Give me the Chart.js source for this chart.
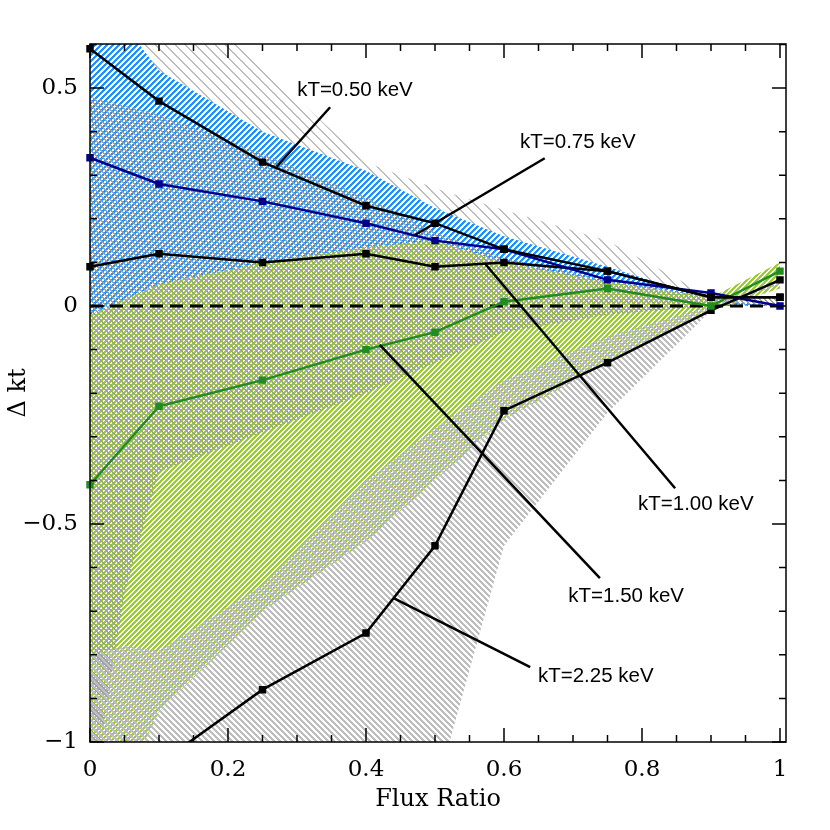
<!DOCTYPE html>
<html>
<head>
<meta charset="utf-8">
<script src="https://cdn.jsdelivr.net/npm/chart.js@4.4.1/dist/chart.umd.min.js"></script>
<style>
  html, body { margin: 0; padding: 0; background: #fff; }
  #caja { width: 830px; height: 830px; }
</style>
</head>
<body>
<div id="caja"><canvas id="grafico"></canvas></div>
<script>
// valores de cada curva (Flux Ratio -> Delta kt)
const fluxRatio = [0, 0.1, 0.25, 0.4, 0.5, 0.6, 0.75, 0.9, 1.0];
const dkt050 = [0.59, 0.47, 0.33, 0.23, 0.19, 0.13, 0.08, 0.02, 0.02];
const dkt075 = [0.34, 0.28, 0.24, 0.19, 0.15, 0.13, 0.06, 0.03, 0.0];
const dkt100 = [0.09, 0.12, 0.10, 0.12, 0.09, 0.10, 0.08, 0.02, 0.02];
const dkt150 = [-0.41, -0.23, -0.17, -0.10, -0.06, 0.01, 0.04, 0.0, 0.08];
const dkt225 = [-1.2, -1.05, -0.88, -0.75, -0.55, -0.24, -0.13, -0.01, 0.06];

// bandas de error (limite superior / inferior)
const bandaX = [0, 0.05, 0.1, 0.25, 0.4, 0.5, 0.6, 0.75, 0.9, 1.0];
const banda050Sup = [1.1, 0.94, 0.78, 0.55, 0.33, 0.27, 0.22, 0.15, 0.02, 0.0];
const banda050Inf = [0.2, 0.18, 0.15, 0.12, 0.1, 0.08, 0.06, 0.04, 0.0, 0.0];
const banda075Sup = [0.75, 0.645, 0.54, 0.40, 0.31, 0.225, 0.16, 0.09, 0.015, 0.0];
const banda075Inf = [-0.05, -0.035, -0.02, 0.02, 0.05, 0.06, 0.05, 0.03, 0.0, 0.0];
const banda100Sup = [0.48, 0.46, 0.44, 0.35, 0.25, 0.17, 0.11, 0.06, 0.02, 0.02];
const banda100Inf = [-1.15, -0.66, -0.38, -0.29, -0.2, -0.13, -0.06, -0.02, 0.0, 0.0];
const banda150Sup = [-0.02, 0.015, 0.05, 0.1, 0.135, 0.15, 0.1, 0.055, 0.02, 0.1];
const banda150Inf = [-1.15, -1.1, -0.93, -0.70, -0.54, -0.40, -0.26, -0.13, -0.01, 0.04];
const banda225Sup = [-0.8, -0.78, -0.79, -0.64, -0.40, -0.28, -0.17, -0.07, 0.0, 0.06];
const banda225Inf = [-1.5, -1.4, -1.35, -1.25, -1.15, -1.12, -0.55, -0.245, -0.01, 0.05];

const ceroX = [0, 1];
const ceroY = [0, 0];

// etiquetas kT
const etiquetas = ['kT=0.50 keV', 'kT=0.75 keV', 'kT=1.00 keV', 'kT=1.50 keV', 'kT=2.25 keV'];
const etiquetaX = [0.384, 0.707, 0.878, 0.777, 0.733];
const etiquetaY = [0.495, 0.375, -0.454, -0.665, -0.849];
const guiaDesdeX = [0.348, 0.659, 0.572, 0.420, 0.440];
const guiaDesdeY = [0.456, 0.339, 0.098, -0.089, -0.670];
const guiaHastaX = [0.2705, 0.471, 0.848, 0.739, 0.638];
const guiaHastaY = [0.3195, 0.163, -0.418, -0.624, -0.828];

const puntos = (xs, ys) => xs.map((x, i) => ({ x: x, y: ys[i] }));

// rayado nitido pixel a pixel
function rayado(color, paso, ancho, haciaArriba, fondo) {
    const c = document.createElement('canvas');
    c.width = paso; c.height = paso;
    const g = c.getContext('2d');
    if (fondo) { g.fillStyle = fondo; g.fillRect(0, 0, paso, paso); }
    g.fillStyle = color;
    for (let i = 0; i < paso; i++) {
        for (let j = 0; j < paso; j++) {
            const d = haciaArriba ? (i + j) % paso : (i - j + paso) % paso;
            if (d < ancho) g.fillRect(i, j, 1, 1);
        }
    }
    return g.createPattern(c, 'repeat');
}

function curva(ys, color) {
    return {
        data: puntos(fluxRatio, ys),
        borderColor: color,
        backgroundColor: color,
        pointBackgroundColor: color,
        pointBorderColor: color,
        pointStyle: 'rect',
        pointRadius: 3.5,
        borderWidth: 2.5,
        tension: 0,
        fill: false,
        clip: { left: 5, top: 5, right: 5, bottom: 0 },
        order: 0
    };
}

function banda(sup, inf, patron, orden) {
    return [{
        data: puntos(bandaX, sup),
        borderWidth: 0, borderColor: 'transparent', pointRadius: 0,
        backgroundColor: patron, fill: '+1', order: orden
    }, {
        data: puntos(bandaX, inf),
        borderWidth: 0, borderColor: 'transparent', pointRadius: 0,
        fill: false, order: orden
    }];
}

const marco = {
    id: 'marco',
    afterDatasetsDraw(chart) {
        const { ctx, chartArea: a, scales: { x, y } } = chart;
        ctx.save();
        ctx.strokeStyle = '#000';
        ctx.lineWidth = 1.5;
        ctx.strokeRect(a.left, a.top, a.right - a.left, a.bottom - a.top);
        ctx.beginPath();
        for (let i = 0; i <= 20; i++) {
            const px = x.getPixelForValue(i * 0.05);
            const largo = i % 4 === 0 ? 14 : 7;
            ctx.moveTo(px, a.bottom); ctx.lineTo(px, a.bottom - largo);
            ctx.moveTo(px, a.top); ctx.lineTo(px, a.top + largo);
        }
        for (let i = -10; i <= 6; i++) {
            const py = y.getPixelForValue(i * 0.1);
            const largo = i % 5 === 0 ? 14 : 7;
            ctx.moveTo(a.left, py); ctx.lineTo(a.left + largo, py);
            ctx.moveTo(a.right, py); ctx.lineTo(a.right - largo, py);
        }
        ctx.stroke();

        ctx.lineWidth = 2.5;
        ctx.font = '20.5px "Liberation Sans", Arial, sans-serif';
        ctx.fillStyle = '#000';
        ctx.textAlign = 'center';
        ctx.textBaseline = 'middle';
        etiquetas.forEach((t, i) => {
            ctx.beginPath();
            ctx.moveTo(x.getPixelForValue(guiaDesdeX[i]), y.getPixelForValue(guiaDesdeY[i]));
            ctx.lineTo(x.getPixelForValue(guiaHastaX[i]), y.getPixelForValue(guiaHastaY[i]));
            ctx.stroke();
            ctx.fillText(t, x.getPixelForValue(etiquetaX[i]), y.getPixelForValue(etiquetaY[i]));
        });
        ctx.restore();
    }
};

const etiquetaEje = v => {
    const r = Math.round(v * 100) / 100;
    return r < 0 ? '\u2212' + Math.abs(r) : String(r);
};

const fuenteEje = { family: '"DejaVu Serif", serif', size: 23 };
const fuenteTitulo = { family: '"DejaVu Serif", serif', size: 24 };

const grafico = document.getElementById('grafico');

new Chart(grafico, {
    type: 'line',
    data: {
        datasets: [
            curva(dkt050, '#000000'),
            curva(dkt075, '#00008B'),
            curva(dkt100, '#000000'),
            curva(dkt150, '#228B22'),
            curva(dkt225, '#000000'),
            {
                data: puntos(ceroX, ceroY),
                borderColor: '#000', borderWidth: 3, borderDash: [13, 7],
                pointRadius: 0, fill: false, order: 1
            },
            ...banda(banda225Sup, banda225Inf, rayado('#bebebe', 6, 3, false, null), 2),
            ...banda(banda100Sup, banda100Inf, rayado('#a0a0a0', 5, 2, false, null), 3),
            ...banda(banda150Sup, banda150Inf, rayado('#9acd32', 5, 3, true, '#ffffff'), 4),
            ...banda(banda075Sup, banda075Inf, rayado('#1e90ff', 6, 3, true, '#ffffff'), 5),
            ...banda(banda050Sup, banda050Inf, rayado('#bebebe', 10, 2, false, null), 6)
        ]
    },
    options: {
        responsive: true,
        maintainAspectRatio: false,
        devicePixelRatio: 1,
        animation: false,
        layout: { padding: { top: 44, right: 44, left: 0, bottom: 0 } },
        plugins: {
            legend: { display: false },
            tooltip: { enabled: false }
        },
        scales: {
            x: {
                type: 'linear',
                min: 0,
                max: 1.0087,
                afterFit: s => { s.height = 88; },
                grid: { display: false, drawTicks: false },
                border: { display: false },
                ticks: {
                    stepSize: 0.2, includeBounds: false, autoSkip: false, maxRotation: 0,
                    padding: 14, color: '#000', font: fuenteEje, callback: etiquetaEje
                },
                title: {
                    display: true, text: 'Flux Ratio', color: '#000',
                    font: fuenteTitulo,
                    padding: { top: 0, bottom: 16 }
                }
            },
            y: {
                type: 'linear',
                min: -1,
                max: 0.601,
                afterFit: s => { s.width = 90; },
                grid: { display: false, drawTicks: false },
                border: { display: false },
                ticks: {
                    stepSize: 0.5, includeBounds: false, autoSkip: false,
                    padding: 12, color: '#000', font: fuenteEje, callback: etiquetaEje
                },
                title: {
                    display: true, text: '\u0394 kt', color: '#000',
                    font: fuenteTitulo,
                    padding: { top: 4, bottom: 2 }
                }
            }
        }
    },
    plugins: [marco]
});
</script>
</body>
</html>
